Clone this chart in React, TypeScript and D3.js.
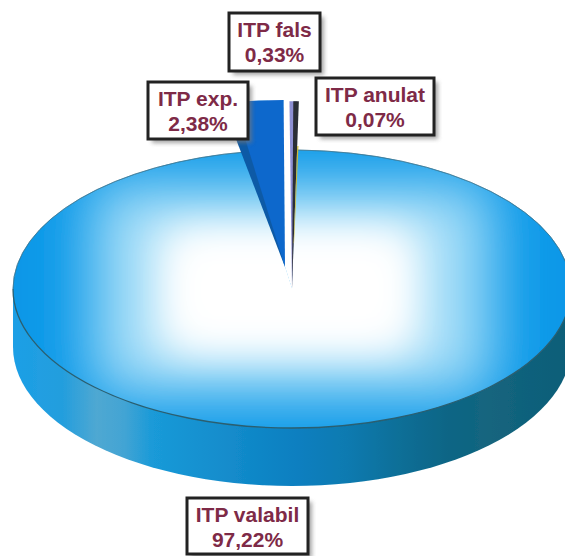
import React from "react";
import * as d3 from "d3";

const categories = ["ITP valabil", "ITP exp.", "ITP fals", "ITP anulat"];
const shares = [97.22, 2.38, 0.33, 0.07];
const shareLabels = ["97,22%", "2,38%", "0,33%", "0,07%"];

const W = 565, H = 556;
const cx = 292, cy = 289, rx = 279, ry = 139, depth = 58;
const tilt = ry / rx;
const deg = Math.PI / 180;
const startRot = 1.0 * deg;

const slices = d3.pie<number>().sort(null).startAngle(startRot).endAngle(startRot + 2 * Math.PI)(shares);
const [valabil, exp, fals, anulat] = slices;

const fullArc = d3.arc<any>();
const mainPath = fullArc({ innerRadius: 0, outerRadius: rx, startAngle: valabil.startAngle, endAngle: valabil.endAngle })!;
const rimPath = fullArc({ innerRadius: rx, outerRadius: rx, startAngle: 90 * deg, endAngle: 270 * deg })!;
const backRimPath = fullArc({ innerRadius: rx, outerRadius: rx, startAngle: valabil.startAngle, endAngle: 90 * deg })!;
const backRimPath2 = fullArc({ innerRadius: rx, outerRadius: rx, startAngle: 270 * deg, endAngle: valabil.endAngle })!;
const expR = 335, falsR = 375;
const expShift = 0.2 * deg;
const expPath = fullArc({ innerRadius: 0, outerRadius: expR, startAngle: exp.startAngle + expShift, endAngle: exp.endAngle + expShift })!;
const expSidePath = fullArc({ innerRadius: 0, outerRadius: expR, startAngle: exp.startAngle - 1.8 * deg, endAngle: exp.startAngle + 2.6 * deg })!;
const falsShift = 0.05 * deg;
const falsPath = fullArc({ innerRadius: 0, outerRadius: falsR, startAngle: fals.startAngle + falsShift, endAngle: fals.endAngle + falsShift })!;
const falsSidePath = fullArc({ innerRadius: 0, outerRadius: falsR, startAngle: fals.endAngle + falsShift - 0.6 * deg, endAngle: fals.endAngle + falsShift + 0.25 * deg })!;
const anulatPath = fullArc({ innerRadius: 90, outerRadius: 285, startAngle: anulat.startAngle + falsShift + 0.25 * deg, endAngle: anulat.endAngle + falsShift + 0.25 * deg })!;

const sidePath = (() => {
  const p = d3.path();
  p.moveTo(cx - rx, cy);
  p.lineTo(cx - rx, cy + depth);
  d3.range(0, 181, 3).forEach(a => p.lineTo(cx - rx * Math.cos(a * deg), cy + depth + ry * Math.sin(a * deg)));
  p.lineTo(cx + rx, cy);
  p.closePath();
  return p.toString();
})();

const boxes = [
  { i: 2, x0: 229, y0: 13, x1: 320, y1: 71 },
  { i: 1, x0: 148, y0: 82, x1: 248, y1: 139 },
  { i: 3, x0: 316, y0: 78, x1: 434, y1: 135 },
  { i: 0, x0: 187, y0: 498, x1: 308, y1: 554 },
];

const sideStops: [number, string][] = [
  [0, "#1c9fe6"], [0.09, "#249edd"], [0.15, "#4fa8d2"], [0.2, "#42a4d4"], [0.25, "#1a9ad8"],
  [0.51, "#0c7fc0"], [0.6, "#0a7ab0"], [0.69, "#0b6f98"], [0.78, "#0c6585"], [0.855, "#14657e"], [1, "#0b5d78"],
];

export default function App() {
  const pieTf = `translate(${cx},${cy}) scale(1,${tilt})`;
  return (
    <svg width={W} height={H} style={{ position: "absolute", left: 0, top: 0 }} viewBox={`0 0 ${W} ${H}`}>
      <defs>
        <linearGradient id="side" gradientUnits="userSpaceOnUse" x1={cx - rx} x2={cx + rx} y1={0} y2={0}>
          {sideStops.map(([o, c]) => <stop key={o} offset={o} stopColor={c} />)}
        </linearGradient>
        <filter id="glow" x="-50%" y="-50%" width="200%" height="200%"><feGaussianBlur stdDeviation="22" /></filter>
        <filter id="glow2" x="-50%" y="-50%" width="200%" height="200%"><feGaussianBlur stdDeviation="30" /></filter>
        <filter id="soft"><feGaussianBlur stdDeviation="0.45" /></filter>
        <filter id="shadow" x="-20%" y="-20%" width="150%" height="150%"><feGaussianBlur stdDeviation="2.2" /></filter>
        <clipPath id="topClip">
          <path d={mainPath} transform={pieTf} />
        </clipPath>
      </defs>
      <rect width={W} height={H} fill="#ffffff" />
      <g filter="url(#soft)">
        <path d={sidePath} fill="url(#side)" />
        <g clipPath="url(#topClip)">
          <rect x={0} y={cy - ry - 5} width={W} height={2 * ry + 10} fill="#0a98e8" />
          <rect x={92} y={182} width={400} height={214} fill="#a6def8" filter="url(#glow2)" />
          <rect x={160} y={226} width={258} height={128} fill="#ffffff" filter="url(#glow)" />
          <rect x={185} y={245} width={210} height={90} fill="#ffffff" filter="url(#glow)" />
        </g>
        <path d={rimPath} transform={pieTf} fill="none" stroke="#2c5f70" strokeWidth={1.3} vectorEffect="non-scaling-stroke" />
        <path d={backRimPath} transform={pieTf} fill="none" stroke="#3a7590" strokeWidth={0.6} vectorEffect="non-scaling-stroke" />
        <path d={backRimPath2} transform={pieTf} fill="none" stroke="#3a7590" strokeWidth={0.6} vectorEffect="non-scaling-stroke" />
        <g transform={`translate(285,267) scale(1,${tilt})`}>
          <path d={expSidePath} fill="#0a5aa6" />
          <path d={expPath} fill="#0a67cc" />
        </g>
        <g transform={`translate(292,288) scale(1,${tilt})`}>
          <path d={falsPath} fill="#8d8fd2" />
          <path d={falsSidePath} fill="#2c2d36" />
          <path d={anulatPath} fill="#cdbb35" />
        </g>
      </g>
      {boxes.map(b => (
        <g key={b.i}>
          <rect x={b.x0 + 4} y={b.y0 + 4} width={b.x1 - b.x0} height={b.y1 - b.y0} fill="#777" opacity={0.65} filter="url(#shadow)" />
          <rect x={b.x0} y={b.y0} width={b.x1 - b.x0} height={b.y1 - b.y0} fill="#fff" stroke="#222" strokeWidth={3} />
          <g textAnchor="middle" fontFamily="'Liberation Sans', Arial, sans-serif" fontWeight="700" fontSize={21} fill="#7e2a47">
            <text x={(b.x0 + b.x1) / 2} y={b.y0 + 24}>{categories[b.i]}</text>
            <text x={(b.x0 + b.x1) / 2} y={b.y0 + 49}>{shareLabels[b.i]}</text>
          </g>
        </g>
      ))}
    </svg>
  );
}
